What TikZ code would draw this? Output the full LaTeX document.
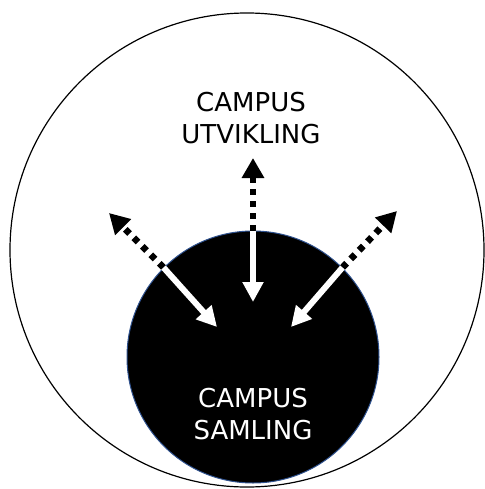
\documentclass[tikz,border=0pt]{standalone}
\usepackage{fontspec}
\setmainfont{DejaVu Sans}
\usepackage{tikz}
\usetikzlibrary{arrows.meta}

\definecolor{rimblue}{RGB}{47,82,143}

\begin{document}
\begin{tikzpicture}[x=0.75pt, y=-0.75pt,
  txt/.style={align=center, font=\fontsize{19.5}{24}\selectfont},
  outarrow/.style={draw=black, line width=5pt, dash pattern=on 4.5pt off 4.5pt, -{Triangle[length=15pt, width=16pt]}},
  inarrow/.style={draw=white, line width=4.5pt, -{Triangle[length=15pt, width=15pt]}}]
  \useasboundingbox (0,0) rectangle (485,489);
  \node[circle, draw, line width=0.9pt, minimum size=355.5pt, inner sep=0pt] (ytre) at (247,250) {};
  \node[circle, draw=rimblue, fill=black, line width=0.75pt, minimum size=189pt, inner sep=0pt] (samling) at (253,357) {};
  \node[txt] (utv) at (251,118) {CAMPUS\\UTVIKLING};
  \node[txt, text=white] (sam) at (253,414) {CAMPUS\\SAMLING};
  % tips outside and inside
  \coordinate (nv) at (109,213);
  \coordinate (n) at (253,158);
  \coordinate (no) at (397,211);
  \coordinate (iv) at (217,327);
  \coordinate (i) at (253,302);
  \coordinate (io) at (291,327);
  \draw[outarrow] (samling.135) -- (nv);
  \draw[outarrow] (samling.north) -- (n);
  \draw[outarrow] (samling.45) -- (no);
  \draw[inarrow] (samling.135) -- (iv);
  \draw[inarrow] (samling.north) -- (i);
  \draw[inarrow] (samling.45) -- (io);
\end{tikzpicture}
\end{document}
